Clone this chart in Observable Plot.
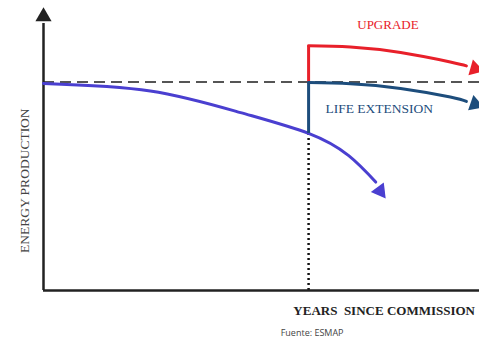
<!DOCTYPE html>
<html><head><meta charset="utf-8">
<script src="https://cdn.jsdelivr.net/npm/d3@7"></script>
<script src="https://cdn.jsdelivr.net/npm/@observablehq/plot@0.6"></script>
<style>body{margin:0;background:#fff}</style>
</head><body><div id="chart"></div>
<script>
// Conceptual chart: years since commissioning (0-100) vs energy production (0-100)
const baseline = 75;
const interventionYear = 60.8;
const declineX = [0, 24.5, 45.2, 60.8, 70.0, 76.2];
const declineY = [74.5, 71.8, 64.0, 56.5, 48.5, 39.0];
const upgradeStart = 75, upgradeTop = 88;
const upgradeX = [60.8, 70.4, 81.9, 93.3, 97.0];
const upgradeY = [88, 87.6, 85.6, 82.2, 80.8];
const lifeStart = 56.5, lifeTop = 74.8;
const lifeX = [60.8, 70.4, 81.9, 93.3, 97.0];
const lifeY = [74.8, 74.4, 72.7, 69.6, 68.0];
const heads = [
  {x: 77.2, y: 35.8, rot: 143, c: "#4a3fd0"},
  {x: 99.0, y: 79.8, rot: 106, c: "#e8202a"},
  {x: 99.0, y: 67.0, rot: 109, c: "#1d4d7c"},
  {x: 0, y: 98.5, rot: 0, c: "#222"}
];
const labels = [
  {x: 79.0, y: 95.5, text: "UPGRADE", c: "#e8202a", size: 13},
  {x: 77.0, y: 65.5, text: "LIFE EXTENSION", c: "#1d4d7c", size: 13.5}
];
const xTitle = "YEARS  SINCE COMMISSION";
const yTitle = "ENERGY PRODUCTION";
const source = "Fuente: ESMAP";

const toRows = (xs, ys) => xs.map((x, i) => ({x, y: ys[i]}));

const plot = Plot.plot({
  width: 479, height: 343,
  marginLeft: 43, marginRight: 0, marginTop: 12, marginBottom: 53,
  x: {domain: [0, 100], axis: null},
  y: {domain: [0, 100], axis: null},
  style: {background: "#fff"},
  marks: [
    Plot.ruleY([baseline], {stroke: "#555", strokeWidth: 2.2, strokeDasharray: "11,6"}),
    Plot.ruleX([interventionYear], {y1: 0, y2: 56.5, stroke: "#111", strokeWidth: 2.5, strokeDasharray: "2,3"}),
    Plot.ruleX([0], {y1: 0, y2: 96, stroke: "#222", strokeWidth: 2.5}),
    Plot.ruleY([0], {stroke: "#222", strokeWidth: 2.5}),
    Plot.line(toRows(declineX, declineY), {x: "x", y: "y", stroke: "#4a3fd0", strokeWidth: 3, curve: "natural"}),
    Plot.ruleX([interventionYear], {y1: upgradeStart, y2: upgradeTop, stroke: "#e8202a", strokeWidth: 3}),
    Plot.line(toRows(upgradeX, upgradeY), {x: "x", y: "y", stroke: "#e8202a", strokeWidth: 3, curve: "natural", strokeLinejoin: "round"}),
    Plot.ruleX([interventionYear], {y1: lifeStart, y2: lifeTop, stroke: "#1d4d7c", strokeWidth: 3}),
    Plot.line(toRows(lifeX, lifeY), {x: "x", y: "y", stroke: "#1d4d7c", strokeWidth: 3, curve: "natural"}),
    Plot.dot(heads, {x: "x", y: "y", symbol: "triangle", fill: d => d.c, stroke: "none", r: 6, rotate: "rot"}),
    Plot.text(labels, {x: "x", y: "y", text: "text", fill: d => d.c, fontSize: d => d.size, textAnchor: "middle", fontFamily: "Liberation Serif"}),
    Plot.text([yTitle], {x: -4.3, y: 39.5, rotate: -90, fontSize: 13.5, fill: "#444", fontFamily: "Liberation Serif"}),
    Plot.text([xTitle], {x: 57.3, y: -7.4, textAnchor: "start", fontSize: 13, fill: "#222", fontFamily: "Liberation Serif", fontWeight: "bold"}),
    Plot.text([source], {x: 54.4, y: -15.5, textAnchor: "start", fontSize: 9, fill: "#444", fontFamily: "Open Sans"})
  ]
});
document.getElementById("chart").appendChild(plot);
</script>
</body></html>
